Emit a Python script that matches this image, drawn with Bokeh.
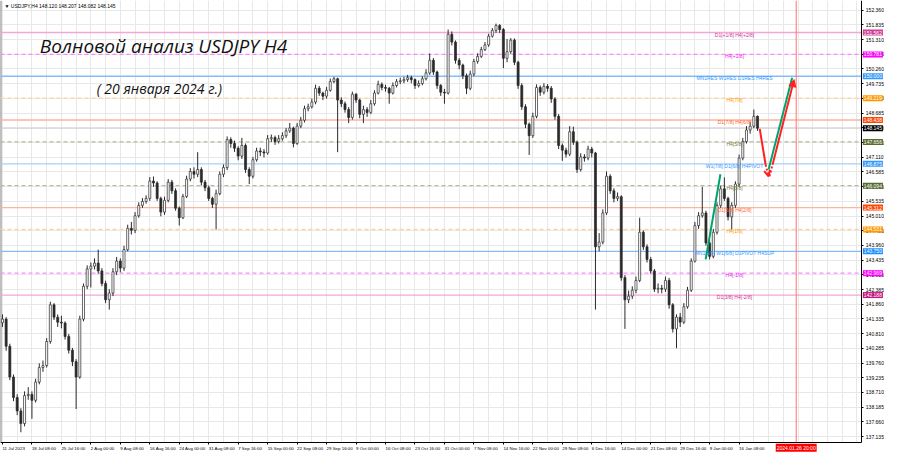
import numpy as np
from bokeh.plotting import figure
from bokeh.models import (Range1d, FixedTicker, Label, Arrow, NormalHead, OpenHead,
                          ColumnDataSource, NumeralTickFormatter, BoxAnnotation)
from bokeh.embed import file_html
from bokeh.resources import INLINE
from bokeh.core.properties import value

# ---------------- data ----------------
symbol_info = "\u25bc USDJPY,H4  148.120 148.207 148.082 148.145"
title_main = "Волновой анализ USDJPY H4"
title_date = "( 20 января 2024 г.)"

bars_per_candle = 4          # each drawn candle covers 4 H4 bars
first_open = 141.20

closes = [
    141.33, 140.36, 139.26, 138.53, 138.05, 137.60, 138.60, 138.64, 138.43, 139.08,
    139.60, 139.67, 140.53, 141.84, 141.40, 141.22, 141.19, 140.71, 140.22, 139.81,
    139.26, 141.33, 142.50, 143.12, 143.22, 143.33, 143.05, 142.60, 142.02, 142.26,
    143.02, 143.40, 143.15, 143.81, 144.57, 144.50, 145.02, 145.39, 145.53, 145.64,
    146.26, 146.19, 145.64, 145.15, 145.57, 146.22, 145.91, 145.29, 144.95, 145.71,
    146.33, 146.60, 146.50, 146.67, 146.22, 146.02, 145.64, 145.43, 145.81, 146.50,
    146.74, 147.74, 147.60, 147.43, 147.15, 147.53, 146.67, 146.43, 147.02, 147.33,
    147.30, 147.26, 147.77, 147.81, 147.67, 147.77, 147.88, 148.05, 148.15, 147.60,
    148.22, 148.43, 148.84, 148.91, 149.08, 149.57, 149.40, 149.29, 149.50, 149.81,
    149.91, 149.15, 149.02, 148.81, 148.53, 149.36, 149.15, 148.64, 148.81, 148.71,
    149.02, 149.40, 149.71, 149.60, 149.57, 149.40, 149.67, 149.81, 149.84, 149.88,
    149.95, 149.88, 149.67, 149.74, 149.91, 150.12, 150.57, 150.15, 149.67, 149.43,
    149.40, 151.50, 151.22, 150.57, 150.40, 150.02, 149.57, 150.08, 150.53, 150.71,
    150.95, 151.12, 151.43, 151.64, 151.81, 151.67, 150.64, 150.88, 151.29, 150.50,
    149.67, 148.91, 148.29, 147.88, 148.57, 149.60, 149.43, 149.64, 149.57, 149.19,
    148.57, 147.53, 147.36, 147.22, 148.02, 147.64, 146.67, 147.12, 147.08, 147.40,
    147.26, 143.91, 144.08, 145.12, 146.43, 145.91, 145.64, 145.70, 142.81, 142.02,
    142.15, 142.36, 142.71, 144.43, 143.91, 143.46, 143.05, 142.40, 142.43, 142.40,
    142.71, 141.84, 140.98, 141.40, 141.22, 141.77, 142.36, 143.40, 144.67, 145.02,
    145.12, 144.05, 143.57, 144.43, 145.39, 145.98, 145.64, 144.98, 145.39, 146.15,
    147.08, 147.67, 148.08, 148.22, 148.57, 148.145,
]

highs = [
    141.50, 141.40, 140.45, 139.35, 138.65, 138.15, 138.75, 138.90, 138.75, 139.20,
    139.75, 139.85, 140.65, 141.95, 141.90, 141.50, 141.45, 141.25, 140.80, 140.30,
    139.90, 141.45, 142.60, 143.25, 143.35, 143.50, 143.81, 143.15, 142.70, 142.40,
    143.15, 143.55, 143.50, 143.95, 144.70, 144.80, 145.15, 145.50, 145.65, 145.75,
    146.40, 146.42, 146.25, 145.70, 145.70, 146.33, 146.30, 146.00, 145.35, 145.80,
    146.45, 146.72, 146.75, 147.29, 146.75, 146.30, 146.10, 145.70, 145.95, 146.60,
    146.85, 147.85, 147.82, 147.70, 147.50, 147.80, 147.60, 146.75, 147.12, 147.45,
    147.45, 147.40, 147.90, 147.92, 147.88, 147.90, 148.00, 148.15, 148.33, 148.20,
    148.33, 148.55, 148.95, 149.02, 149.20, 149.70, 149.65, 149.45, 149.62, 149.92,
    149.98, 149.95, 149.25, 149.10, 148.90, 149.45, 149.40, 149.20, 148.95, 148.90,
    149.15, 149.50, 149.84, 149.78, 149.70, 149.62, 149.78, 149.90, 149.95, 149.98,
    150.05, 150.02, 149.92, 149.85, 150.00, 150.25, 150.81, 150.65, 150.20, 149.72,
    149.55, 151.67, 151.60, 151.28, 150.65, 150.45, 150.10, 150.20, 150.62, 150.82,
    151.05, 151.22, 151.52, 151.72, 151.88, 151.86, 151.72, 151.33, 151.36, 151.35,
    150.55, 149.75, 149.00, 148.35, 148.70, 149.71, 149.67, 149.75, 149.72, 149.65,
    149.25, 148.65, 147.60, 147.45, 148.22, 148.20, 147.70, 147.25, 147.22, 147.52,
    147.48, 147.30, 144.40, 145.25, 146.60, 146.50, 146.00, 145.85, 145.75, 142.90,
    142.35, 142.50, 142.85, 144.95, 144.50, 144.00, 143.55, 143.12, 142.60, 142.55,
    142.85, 142.80, 141.90, 141.50, 141.55, 141.90, 142.48, 143.50, 144.80, 145.15,
    146.05, 145.20, 144.15, 144.55, 145.50, 146.10, 146.39, 145.70, 145.50, 146.25,
    147.20, 147.80, 148.22, 148.38, 148.81, 148.60,
]

lows = [
    141.05, 140.20, 139.15, 138.40, 137.90, 137.29, 137.50, 138.45, 137.77, 138.35,
    139.00, 139.45, 139.60, 140.45, 141.30, 141.05, 141.00, 140.60, 140.10, 139.65,
    138.12, 139.20, 141.25, 142.40, 142.46, 143.10, 142.95, 142.50, 141.90, 141.67,
    142.15, 142.90, 143.00, 143.05, 143.75, 144.35, 144.40, 144.95, 145.30, 145.45,
    145.55, 146.05, 145.55, 145.00, 145.05, 145.50, 145.80, 145.20, 144.67, 144.90,
    145.65, 146.25, 146.35, 146.40, 146.10, 145.90, 145.55, 145.30, 144.53, 145.75,
    146.40, 146.65, 147.45, 147.30, 147.00, 147.05, 146.55, 146.15, 146.35, 146.95,
    147.15, 147.10, 147.20, 147.65, 147.55, 147.60, 147.70, 147.80, 147.98, 147.46,
    147.55, 148.15, 148.35, 148.75, 148.85, 149.00, 149.30, 149.15, 149.20, 149.45,
    149.75, 147.29, 148.90, 148.70, 148.33, 148.45, 149.05, 148.50, 148.33, 148.55,
    148.65, 148.95, 149.35, 149.50, 149.45, 149.02, 149.35, 149.60, 149.72, 149.75,
    149.80, 149.75, 149.55, 149.60, 149.68, 149.85, 150.05, 150.05, 149.55, 149.30,
    149.02, 149.35, 151.10, 150.45, 150.25, 149.90, 149.36, 149.50, 150.00, 150.45,
    150.65, 150.90, 151.05, 151.38, 151.55, 151.55, 150.29, 150.50, 150.80, 150.40,
    149.55, 148.80, 148.15, 147.19, 147.80, 148.50, 149.30, 149.35, 149.45, 149.05,
    148.45, 147.40, 146.98, 147.10, 147.15, 147.55, 146.55, 146.60, 146.95, 147.00,
    147.10, 141.67, 143.75, 144.00, 145.05, 145.80, 145.50, 145.55, 142.70, 140.98,
    141.90, 142.05, 142.25, 142.65, 143.80, 143.35, 142.95, 142.30, 142.25, 142.25,
    142.30, 141.70, 140.85, 140.29, 141.05, 141.15, 141.70, 142.30, 143.35, 144.55,
    144.95, 143.95, 143.46, 143.50, 144.35, 145.30, 145.55, 144.85, 144.53, 145.30,
    146.05, 147.00, 147.60, 147.95, 148.15, 148.05,
]

# time axis (H4 bar index of each label)
time_labels = ["11 Jul 2023", "18 Jul 08:00", "25 Jul 16:00", "2 Aug 00:00", "9 Aug 08:00",
               "16 Aug 16:00", "24 Aug 00:00", "31 Aug 08:00", "7 Sep 16:00", "15 Sep 00:00",
               "22 Sep 08:00", "29 Sep 16:00", "9 Oct 00:00", "16 Oct 08:00", "23 Oct 16:00",
               "31 Oct 00:00", "7 Nov 08:00", "14 Nov 16:00", "22 Nov 00:00", "29 Nov 08:00",
               "6 Dec 16:00", "14 Dec 00:00", "21 Dec 08:00", "29 Dec 16:00", "9 Jan 00:00",
               "16 Jan 08:00"]
time_label_bars = [0, 32, 64, 96, 128, 160, 192, 224, 256, 288, 320, 352, 384, 416, 448,
                   480, 512, 544, 576, 608, 640, 672, 704, 736, 768, 800]
grid_bars = [0, 16, 32, 48, 64, 80, 96, 112, 128, 144, 160, 176, 192, 208, 224, 240, 256,
             272, 288, 304, 320, 336, 352, 368, 384, 400, 416, 432, 448, 464, 480, 496, 512,
             528, 544, 560, 576, 592, 608, 624, 640, 656, 672, 688, 704, 720, 736, 752, 768,
             784, 800, 816, 832, 848, 864, 880, 896, 912, 928]

price_ticks = [152.360, 151.835, 151.310, 150.785, 150.260, 149.735, 149.210, 148.685,
               148.160, 147.635, 147.110, 146.585, 146.060, 145.535, 145.010, 144.485,
               143.960, 143.435, 142.910, 142.385, 141.860, 141.335, 140.810, 140.285,
               139.760, 139.235, 138.710, 138.185, 137.660, 137.135]

# Murrey / pivot levels
levels = [151.562, 150.781, 150.000, 149.219, 148.438, 147.656, 146.875, 146.094,
          145.312, 144.531, 143.750, 142.969, 142.188]
level_names = ["D1[+1/8] H4[+2/8]", "H4[+1/8]", "MN1RES W1RES D1RES H4RES", "H4[7/8]",
               "D1[7/8] H4[6/8]", "H4[5/8]", "W1[7/8] D1[6/8] H4PIVOT", "H4[3/8]",
               "D1[5/8] H4[2/8]", "H4[1/8]", "MN1[5/8] W1[6/8] D1PIVOT H4SUP", "H4[-1/8]",
               "D1[3/8] H4[-2/8]"]
current_price = 148.145
current_time_bar = 862
current_time_label = "2024.01.26 20:00"

# wave drawings / forecast (bar index, price)
wave1_x = [763.7, 779.7]
wave1_y = [143.46, 146.50]
wave2_x = [832.0, 857.6]
wave2_y = [146.67, 149.95]
fc_down_x = [822.4, 828.8, 832.0]
fc_down_y = [148.12, 146.84, 146.43]
fc_up_x = [833.0, 836.3, 859.7]
fc_up_y = [146.43, 146.84, 149.88]

# ---------------- styles ----------------
level_dashed = [False, True, False, True, False, True, False, True, False, True, False, True, False]
level_line_colors = ["#f2a7d6", "#ff88ff", "#84bdf5", "#fcd3a0", "#fdb59c", "#bdb79c", "#a9d1f7",
                     "#bdb79c", "#fdb59c", "#fcd3a0", "#84bdf5", "#ff88ff", "#f2a7d6"]
level_text_colors = ["#cc3399", "#ee22ee", "#3399ff", "#ff9900", "#ff6633", "#7a7a40", "#3399ff",
                     "#7a7a40", "#ff6633", "#ff9900", "#3399ff", "#ee22ee", "#cc3399"]
level_tag_colors = ["#d13c96", "#ff00ff", "#3399ff", "#ff9900", "#ff4500", "#5c6b2e", "#3399ff",
                    "#556b2f", "#ff4500", "#ff9900", "#1e90ff", "#ff00ff", "#c7157f"]
name_x = 795
X0, X1, XE = -2.13, 933.3, 957.9        # chart left, chart right (axis line), page right
Y0, Y1, YB = 136.912, 152.705, 136.567  # chart bottom (axis line), chart top, page bottom
small_font = "Liberation Sans"
small_size = "5px"
time_size = "4.4px"

# ---------------- figure ----------------
p = figure(width=884, height=452, x_range=Range1d(X0, XE), y_range=Range1d(YB, Y1),
           y_axis_location="right", output_backend="svg", toolbar_location=None,
           min_border=0)
p.outline_line_color = None
p.background_fill_color = "white"
p.border_fill_color = "white"

# axes, drawn at the chart border
p.yaxis.fixed_location = X1
p.xaxis.fixed_location = Y0
p.yaxis.bounds = (Y0, Y1)
p.xaxis.bounds = (X0, X1)
p.yaxis.ticker = FixedTicker(ticks=price_ticks)
p.yaxis.formatter = NumeralTickFormatter(format="0.000")
p.xaxis.ticker = FixedTicker(ticks=time_label_bars)
for ax in (p.xaxis, p.yaxis):
    ax.major_label_text_font = small_font
    ax.major_label_text_font_size = small_size
    ax.major_label_text_color = "#000000"
    ax.axis_line_color = "#000000"
    ax.major_tick_line_color = "#000000"
    ax.major_tick_out = 2
    ax.major_tick_in = 0
    ax.minor_tick_line_color = None
    ax.major_label_standoff = 2
# time labels are written left-aligned from each tick (MetaTrader style), see below
p.xaxis.major_label_text_color = None

p.xgrid.ticker = FixedTicker(ticks=grid_bars)
p.ygrid.ticker = FixedTicker(ticks=price_ticks)
p.xgrid.grid_line_color = "#e8e8e8"
p.ygrid.grid_line_color = "#e8e8e8"
# keep the axis strips clean of grid lines
p.add_layout(BoxAnnotation(left=X1, fill_color="white", fill_alpha=1, line_color=None, level="underlay"))
p.add_layout(BoxAnnotation(top=Y0, fill_color="white", fill_alpha=1, line_color=None, level="underlay"))

# left chart border
p.segment(x0=[X0], y0=[Y0], x1=[X0], y1=[Y1], line_color="#808080", line_width=2)

# time labels
p.text(x=time_label_bars, y=[Y0] * len(time_label_bars), text=time_labels,
       text_font=value(small_font), text_font_size=time_size, text_color="#000000",
       text_align="left", text_baseline="top", y_offset=3, x_offset=0)

# levels
solid_idx = [i for i, d in enumerate(level_dashed) if not d]
dash_idx = [i for i, d in enumerate(level_dashed) if d]
src_solid = ColumnDataSource(dict(y=[levels[i] for i in solid_idx],
                                  c=[level_line_colors[i] for i in solid_idx]))
src_dash = ColumnDataSource(dict(y=[levels[i] for i in dash_idx],
                                 c=[level_line_colors[i] for i in dash_idx]))
p.segment(x0=X0, y0="y", x1=X1, y1="y", line_color="c", line_width=1.3, source=src_solid)
p.segment(x0=X0, y0="y", x1=X1, y1="y", line_color="c", line_width=1.2, line_dash="4 3",
          source=src_dash)
p.segment(x0=[X0], y0=[current_price], x1=[X1], y1=[current_price], line_color="#cfcfcf",
          line_width=1)

# current time vertical line
p.segment(x0=[current_time_bar], y0=[Y0], x1=[current_time_bar], y1=[Y1],
          line_color="#ff7070", line_width=1)

# candles
n = len(closes)
opens = [first_open] + closes[:-1]
xs = np.arange(n) * bars_per_candle
o = np.array(opens)
c = np.array(closes)
inc = c >= o
cs = ColumnDataSource(dict(x=xs, o=o, c=c, h=np.array(highs), l=np.array(lows)))
p.segment(x0="x", y0="h", x1="x", y1="l", line_color="#2a2a2a", line_width=1, source=cs)
src_inc = ColumnDataSource(dict(x=xs[inc], o=o[inc], c=c[inc]))
src_dec = ColumnDataSource(dict(x=xs[~inc], o=o[~inc], c=c[~inc]))
p.vbar(x="x", width=2.2, top="c", bottom="o", fill_color="white", line_color="#2a2a2a",
       line_width=0.7, source=src_inc)
p.vbar(x="x", width=2.2, top="o", bottom="c", fill_color="#2a2a2a", line_color="#2a2a2a",
       line_width=0.7, source=src_dec)

# level names
p.text(x=[name_x] * len(levels), y=levels, text=level_names, text_color=level_text_colors,
       text_font=value(small_font), text_font_size=small_size, text_align="center",
       text_baseline="middle", y_offset=2)

# wave lines
p.line(wave1_x, wave1_y, line_color="#00a36c", line_width=2)
p.line(wave2_x, wave2_y, line_color="#00a36c", line_width=2)

# forecast arrows
red = "#ff2020"
p.add_layout(Arrow(x_start=fc_down_x[0], y_start=fc_down_y[0], x_end=fc_down_x[1], y_end=fc_down_y[1],
                   line_color=red, line_width=2, end=None))
p.add_layout(Arrow(x_start=fc_down_x[1], y_start=fc_down_y[1], x_end=fc_down_x[2], y_end=fc_down_y[2],
                   line_color=red, line_width=2, line_dash="2 2",
                   end=OpenHead(size=6, line_color=red, line_width=2)))
p.add_layout(Arrow(x_start=fc_up_x[0], y_start=fc_up_y[0], x_end=fc_up_x[1], y_end=fc_up_y[1],
                   line_color=red, line_width=2, line_dash="2 2", end=None))
p.add_layout(Arrow(x_start=fc_up_x[1], y_start=fc_up_y[1], x_end=fc_up_x[2], y_end=fc_up_y[2],
                   line_color=red, line_width=2,
                   end=NormalHead(size=7, fill_color=red, line_color=red)))

# price tags on the right axis
for lv, col in zip(levels, level_tag_colors):
    p.add_layout(Label(x=X1, y=lv, x_offset=1, text=f"{lv:.3f}", text_font=small_font,
                       text_font_size=small_size, text_color="white", text_align="left",
                       text_baseline="middle", background_fill_color=col, padding=1))
p.add_layout(Label(x=X1, y=current_price, x_offset=1, text=f"{current_price:.3f}",
                   text_font=small_font, text_font_size=small_size, text_color="white",
                   text_align="left", text_baseline="middle", background_fill_color="#000000",
                   padding=1))
# time tag
p.add_layout(Label(x=current_time_bar, y=Y0, y_offset=-1, text=current_time_label,
                   text_font=small_font, text_font_size=small_size, text_color="white",
                   text_align="center", text_baseline="top", background_fill_color="#ff0000",
                   padding=1))

# texts
p.add_layout(Label(x=X0, y=Y1, x_offset=4, y_offset=-2, text=symbol_info, text_font=small_font,
                   text_font_size=small_size, text_color="#000000", text_baseline="top"))
p.add_layout(Label(x=40.5, y=151.08, text=title_main, text_font="Open Sans",
                   text_font_style="italic", text_font_size="19px", text_color="#111111",
                   text_baseline="middle"))
p.add_layout(Label(x=102.4, y=149.57, text=title_date, text_font="Open Sans",
                   text_font_style="italic", text_font_size="14px", text_color="#111111",
                   text_baseline="middle"))

open("out.html", "w").write(file_html(p, INLINE))
